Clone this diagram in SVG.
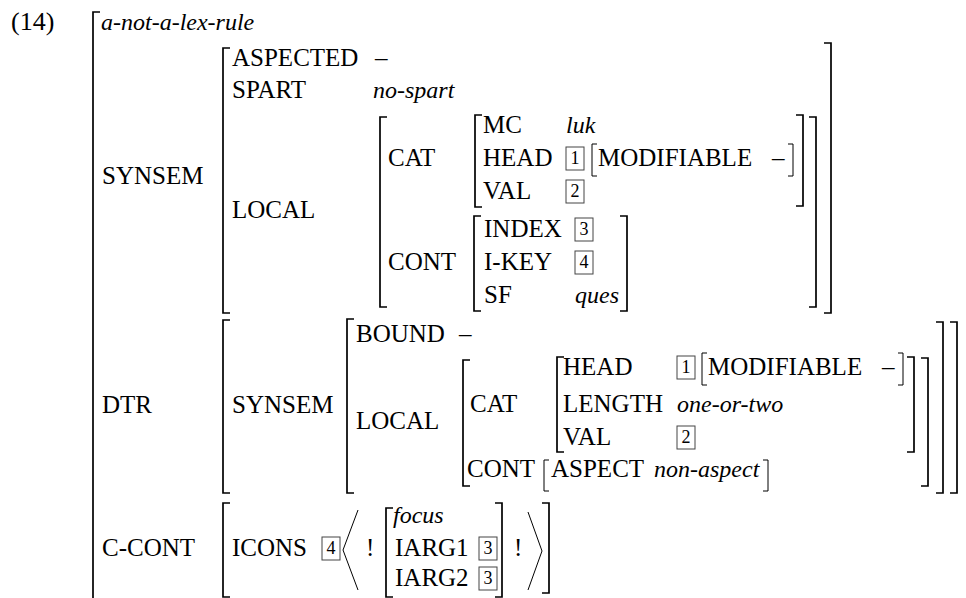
<svg xmlns="http://www.w3.org/2000/svg" width="966" height="598" viewBox="0 0 966 598">
<style>
text{font-family:"Liberation Serif","Times New Roman",serif;font-size:25px;fill:#000}
.i{font-style:italic;font-size:24px}
.b{fill:none;stroke:#000;stroke-width:1.7}
.t{fill:none;stroke:#000;stroke-width:1}
.bx{fill:none;stroke:#444;stroke-width:1}
.n{font-size:18px;text-anchor:middle}
</style>
<defs>
<g id="box"><rect class="bx" x="0" y="-19" width="18" height="23"/></g>
</defs>
<text x="11" y="30" style="font-size:26px">(14)</text>
<g id="brackets">
<path class="b" d="M100,12 H93 V598"/>
<!-- SYNSEM value -->
<path class="b" d="M230,48 H223 V313 H230"/>
<path class="b" d="M824,43 H831 V313 H824"/>
<!-- LOCAL value -->
<path class="b" d="M387,117 H380 V307 H387"/>
<path class="b" d="M809,117 H816 V307 H809"/>
<!-- CAT value -->
<path class="b" d="M482,115 H475 V207 H482"/>
<path class="b" d="M796,115 H803 V206 H796"/>
<path class="t" d="M597,144 H592 V176 H597"/>
<path class="t" d="M788,144 H793 V176 H788"/>
<!-- CONT value -->
<path class="b" d="M481,216 H474 V311 H481"/>
<path class="b" d="M620,216 H627 V311 H620"/>
<!-- DTR value -->
<path class="b" d="M230,320 H223 V493 H230"/>
<path class="b" d="M950,322 H957 V493 H950"/>
<path class="b" d="M354,319 H347 V493 H354"/>
<path class="b" d="M936,322 H943 V493 H936"/>
<path class="b" d="M470,360 H463 V486 H470"/>
<path class="b" d="M921,358 H928 V486 H921"/>
<path class="b" d="M564,357 H557 V452 H564"/>
<path class="b" d="M907,357 H914 V452 H907"/>
<path class="t" d="M707,353 H702 V385 H707"/>
<path class="t" d="M898,353 H903 V385 H898"/>
<path class="t" d="M549,460 H544 V491 H549"/>
<path class="t" d="M763,460 H768 V491 H763"/>
<!-- C-CONT value -->
<path class="b" d="M230,503 H223 V597 H230"/>
<path class="b" d="M542,503 H549 V593 H542"/>
<path class="b" d="M393,508 H386 V597 H393"/>
<path class="b" d="M495,503 H502 V597 H495"/>
<path class="t" d="M358,510 L343,550 L358,590"/>
<path class="t" d="M528,512 L542,551 L528,590"/>
</g>
<g id="root">
<text class="i" x="101" y="30">a-not-a-lex-rule</text>
<text x="102" y="184">SYNSEM</text>
<text x="102" y="413">DTR</text>
<text x="102" y="556">C-CONT</text>
</g>
<g id="synsem">
<text x="232" y="66">ASPECTED</text>
<text x="375" y="66">–</text>
<text x="232" y="98">SPART</text>
<text class="i" x="373" y="98">no-spart</text>
<text x="232" y="218">LOCAL</text>
<text x="388" y="166">CAT</text>
<text x="388" y="270">CONT</text>
<text x="483" y="133">MC</text>
<text class="i" x="566" y="133">luk</text>
<text x="483" y="166">HEAD</text>
<use href="#box" x="566" y="166"/><text class="n" x="575" y="164">1</text>
<text x="598" y="166">MODIFIABLE</text>
<text x="772" y="166">–</text>
<text x="483" y="199">VAL</text>
<use href="#box" x="566" y="199"/><text class="n" x="575" y="197">2</text>
<text x="484" y="237">INDEX</text>
<use href="#box" x="575" y="237"/><text class="n" x="584" y="235">3</text>
<text x="484" y="270">I-KEY</text>
<use href="#box" x="575" y="270"/><text class="n" x="584" y="268">4</text>
<text x="484" y="303">SF</text>
<text class="i" x="575" y="303">ques</text>
</g>
<g id="dtr">
<text x="232" y="413">SYNSEM</text>
<text x="356" y="342">BOUND</text>
<text x="459" y="342">–</text>
<text x="356" y="429">LOCAL</text>
<text x="470" y="412">CAT</text>
<text x="467" y="477">CONT</text>
<text x="563" y="375">HEAD</text>
<use href="#box" x="677" y="375"/><text class="n" x="686" y="373">1</text>
<text x="708" y="375">MODIFIABLE</text>
<text x="882" y="375">–</text>
<text x="563" y="412">LENGTH</text>
<text class="i" x="677" y="412">one-or-two</text>
<text x="563" y="445">VAL</text>
<use href="#box" x="677" y="445"/><text class="n" x="686" y="443">2</text>
<text x="551" y="477">ASPECT</text>
<text class="i" x="654" y="477">non-aspect</text>
</g>
<g id="ccont">
<text x="232" y="556">ICONS</text>
<use href="#box" x="322" y="556"/><text class="n" x="331" y="554">4</text>
<text x="366" y="556">!</text>
<text class="i" x="393" y="523">focus</text>
<text x="395" y="556">IARG1</text>
<use href="#box" x="479" y="556"/><text class="n" x="488" y="554">3</text>
<text x="395" y="586">IARG2</text>
<use href="#box" x="479" y="586"/><text class="n" x="488" y="584">3</text>
<text x="514" y="556">!</text>
</g>
</svg>
